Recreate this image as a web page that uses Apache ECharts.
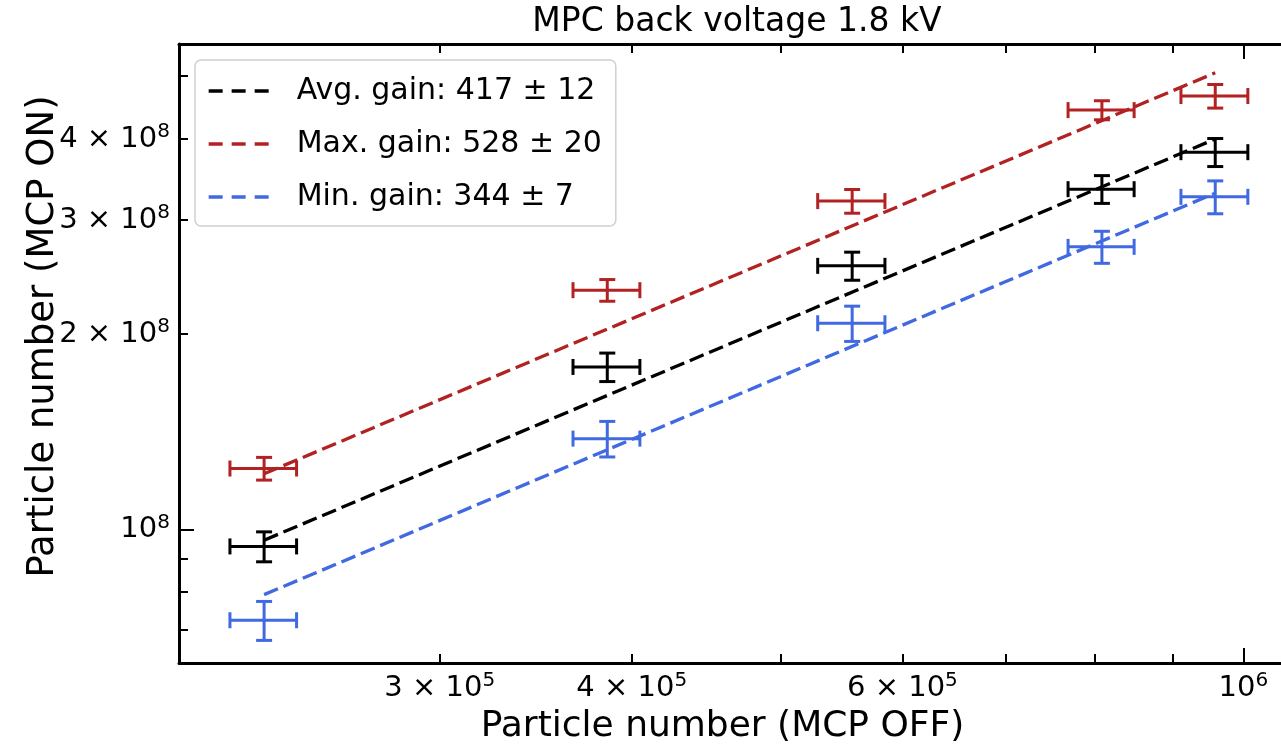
<!DOCTYPE html>
<html>
<head>
<meta charset="utf-8">
<script src="https://cdn.jsdelivr.net/npm/echarts@6/dist/echarts.min.js"></script>
<style>
html,body{margin:0;padding:0;background:#fff;}
#chart{width:1281px;height:747px;}
</style>
</head>
<body>
<div id="chart"></div>
<script>
// ---- data ----
const xOff   = [2.306e5, 3.856e5, 5.565e5, 8.09e5, 9.587e5];
const xErr   = [1.15e4, 1.93e4, 2.8e4, 4.0e4, 4.8e4];
const avgOn  = [9.41e7, 1.78e8, 2.549e8, 3.347e8, 3.817e8];
const avgErr = [5.0e6, 9.0e6, 1.27e7, 1.65e7, 1.9e7];
const maxOn  = [1.241e8, 2.338e8, 3.208e8, 4.432e8, 4.659e8];
const maxErr = [5.0e6, 9.0e6, 1.35e7, 1.5e7, 1.95e7];
const minOn  = [7.24e7, 1.38e8, 2.079e8, 2.727e8, 3.257e8];
const minErr = [5.0e6, 8.7e6, 1.3e7, 1.55e7, 1.9e7];
// fitted lines (endpoints)
const fitX    = [2.306e5, 9.587e5];
const fitAvg  = [9.62e7, 4.00e8];
const fitMax  = [1.218e8, 5.06e8];
const fitMin  = [7.93e7, 3.30e8];
const seriesNames = ['Avg. gain: 417 ± 12', 'Max. gain: 528 ± 20', 'Min. gain: 344 ± 7'];
// ticks
const xMinorTicks = [3e5, 4e5, 5e5, 6e5, 7e5, 8e5, 9e5];
const xMajorTicks = [1e6];
const xLabelVals  = [3e5, 4e5, 6e5, 1e6];
const yMinorTicks = [7e7, 8e7, 9e7, 2e8, 3e8, 4e8, 5e8];
const yMajorTicks = [1e8];
const yLabelVals  = [1e8, 2e8, 3e8, 4e8];
const titleText = 'MPC back voltage 1.8 kV';
const xName = 'Particle number (MCP OFF)';
const yName = 'Particle number (MCP ON)';

const colors = ['#000000', '#b22222', '#4169e1'];
const FONT = 'DejaVu Sans';

function sciLabel(v) {
  const e = Math.floor(Math.log10(v) + 1e-9);
  const m = Math.round(v / Math.pow(10, e));
  if (m === 1) return '{a|10}{s|' + e + '}';
  return '{a|' + m + ' × 10}{s|' + e + '}';
}
const richLab = {
  a: {fontFamily: FONT, fontSize: 29, color: '#000'},
  s: {fontFamily: FONT, fontSize: 20, color: '#000', verticalAlign: 'bottom', padding: [0, 0, 14, 0]}
};

const X_MIN = 2.03e5, X_MAX = 1.082e6, Y_MIN = 6.22e7, Y_MAX = 5.605e8;

function xAx(pos, ticks, len, showLine, labels) {
  return {
    type: 'log', logBase: 10, min: X_MIN, max: X_MAX, position: pos,
    axisLine: {show: showLine, lineStyle: {color: '#000', width: 3}},
    axisTick: {show: true, inside: true, length: len, customValues: ticks, lineStyle: {color: '#000', width: 2}},
    axisLabel: labels ? {show: true, customValues: labels, margin: 8, formatter: sciLabel, rich: richLab} : {show: false},
    splitLine: {show: false}, minorTick: {show: false}
  };
}
function yAx(pos, ticks, len, showLine, labels) {
  return {
    type: 'log', logBase: 10, min: Y_MIN, max: Y_MAX, position: pos,
    axisLine: {show: showLine, lineStyle: {color: '#000', width: 3}},
    axisTick: {show: true, inside: true, length: len, customValues: ticks, lineStyle: {color: '#000', width: 2}},
    axisLabel: labels ? {show: true, customValues: labels, margin: 9, formatter: sciLabel, rich: richLab} : {show: false},
    splitLine: {show: false}, minorTick: {show: false}
  };
}

const xAxes = [
  xAx('bottom', xMinorTicks, 9, true, xLabelVals),
  xAx('bottom', xMajorTicks, 15, false, null),
  xAx('top', xMinorTicks, 9, true, null),
  xAx('top', xMajorTicks, 15, false, null)
];
Object.assign(xAxes[0], {name: xName, nameLocation: 'middle', nameGap: 46, nameMoveOverlap: false,
  nameTextStyle: {fontFamily: FONT, fontSize: 36, color: '#000', padding: [0, 30, 0, 0]}});
const yAxes = [
  yAx('left', yMinorTicks, 9, true, yLabelVals),
  yAx('left', yMajorTicks, 15, false, null)
];
Object.assign(yAxes[0], {name: yName, nameLocation: 'middle', nameGap: 117, nameRotate: 90, nameMoveOverlap: false,
  nameTextStyle: {fontFamily: FONT, fontSize: 37, color: '#000', padding: [0, 0, 0, 34]}});

function errSeries(ys, yerrs, color) {
  const data = xOff.map((x, i) => [x, ys[i], xErr[i], yerrs[i]]);
  return {
    type: 'custom', xAxisIndex: 0, yAxisIndex: 0, z: 2, silent: true,
    data: data, encode: {x: 0, y: 1},
    renderItem: function (params, api) {
      const x = api.value(0), y = api.value(1), xe = api.value(2), ye = api.value(3);
      const c = api.coord([x, y]);
      const l = api.coord([x - xe, y]);
      const r = api.coord([x + xe, y]);
      const t = api.coord([x, y + ye]);
      const b = api.coord([x, y - ye]);
      const cap = 8;
      const st = {stroke: color, lineWidth: 3, fill: null};
      const ln = (x1, y1, x2, y2) => ({type: 'line', shape: {x1, y1, x2, y2}, style: st});
      return {type: 'group', children: [
        ln(l[0], c[1], r[0], c[1]),
        ln(c[0], t[1], c[0], b[1]),
        ln(l[0], c[1] - cap, l[0], c[1] + cap),
        ln(r[0], c[1] - cap, r[0], c[1] + cap),
        ln(c[0] - cap, t[1], c[0] + cap, t[1]),
        ln(c[0] - cap, b[1], c[0] + cap, b[1])
      ]};
    }
  };
}
function fitSeries(name, ys, color) {
  return {
    type: 'line', name: name, xAxisIndex: 0, yAxisIndex: 0, z: 3,
    data: fitX.map((x, i) => [x, ys[i]]),
    symbol: 'none', showSymbol: false, silent: true,
    itemStyle: {color: color},
    lineStyle: {color: color, width: 3.3, type: [15, 6]}
  };
}

const chart = echarts.init(document.getElementById('chart'), null, {renderer: 'canvas'});
chart.setOption({
  animation: false,
  backgroundColor: '#fff',
  grid: {left: 179, right: -15, top: 44, bottom: 84, containLabel: false, outerBoundsMode: 'none'},
  xAxis: xAxes,
  yAxis: yAxes,
  graphic: [{
    type: 'text', x: 737, y: 22,
    style: {text: titleText, fontFamily: FONT, fontSize: 33, fill: '#000', textAlign: 'center', textVerticalAlign: 'middle'}
  }],
  legend: {
    show: true, orient: 'vertical', left: 195, top: 60,
    data: seriesNames,
    itemWidth: 61, itemHeight: 14, itemGap: 23,
    padding: [16, 14, 14, 12],
    backgroundColor: 'rgba(255,255,255,0.85)',
    borderColor: '#d0d0d0', borderWidth: 1.5, borderRadius: 6,
    itemStyle: {opacity: 0},
    lineStyle: {width: 3.3, type: [14, 9]},
    textStyle: {fontFamily: FONT, fontSize: 30, color: '#000', padding: [0, 0, 0, 22]},
    selectedMode: false
  },
  series: [
    errSeries(avgOn, avgErr, colors[0]),
    errSeries(maxOn, maxErr, colors[1]),
    errSeries(minOn, minErr, colors[2]),
    fitSeries(seriesNames[0], fitAvg, colors[0]),
    fitSeries(seriesNames[1], fitMax, colors[1]),
    fitSeries(seriesNames[2], fitMin, colors[2])
  ]
});
</script>
</body>
</html>
